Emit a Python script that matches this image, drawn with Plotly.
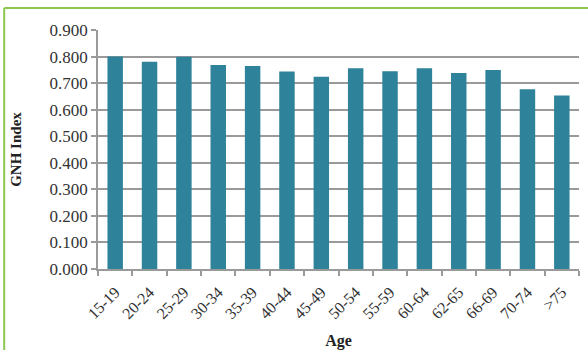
import plotly.graph_objects as go

ages = ["15-19", "20-24", "25-29", "30-34", "35-39", "40-44", "45-49",
        "50-54", "55-59", "60-64", "62-65", "66-69", "70-74", ">75"]
gnh_index = [0.800, 0.780, 0.799, 0.768, 0.764, 0.744, 0.724,
             0.756, 0.745, 0.756, 0.738, 0.749, 0.677, 0.653]
y_ticks = [0.0, 0.1, 0.2, 0.3, 0.4, 0.5, 0.6, 0.7, 0.8, 0.9]
y_tick_labels = [f"{v:.3f}" for v in y_ticks]

bar_color = "#2E8299"
grid_color = "#9A9A9A"
text_color = "#333333"
frame_color = "#8CC850"
font_family = "Liberation Serif, Times New Roman, serif"

fig = go.Figure(go.Bar(
    x=ages, y=gnh_index, marker=dict(color=bar_color, line=dict(width=0)),
))

fig.update_layout(
    width=588, height=350,
    margin=dict(l=98, r=9, t=30, b=81),
    paper_bgcolor="white", plot_bgcolor="white",
    bargap=0.55,
    showlegend=False,
    font=dict(family=font_family, color=text_color, size=15),
    xaxis=dict(
        type="category", tickson="boundaries", showgrid=False,
        automargin=False,
        ticks="outside", ticklen=5, tickcolor=grid_color, tickwidth=1.5,
        showline=True, linecolor=grid_color, linewidth=1.5,
        tickangle=-45, tickfont=dict(size=16, color=text_color),
        ticklabelstandoff=6,
        title=dict(text="<b>Age</b>", font=dict(size=16, color="#222222"), standoff=15),
    ),
    yaxis=dict(
        range=[0, 0.9], tickvals=y_ticks, ticktext=y_tick_labels,
        automargin=False,
        showgrid=True, gridcolor=grid_color, gridwidth=1.6,
        ticks="outside", ticklen=5, tickcolor=grid_color, tickwidth=1.5,
        showline=True, linecolor=grid_color, linewidth=1.5,
        zeroline=False,
        tickfont=dict(size=17, color=text_color),
        title=dict(text="<b>GNH Index</b>", font=dict(size=15, color="#222222"), standoff=24),
    ),
)

# green frame (top and left edges)
fig.add_shape(type="line", xref="paper", yref="paper",
              x0=-0.195, x1=1.03, y0=1.092, y1=1.092,
              line=dict(color=frame_color, width=2))
fig.add_shape(type="line", xref="paper", yref="paper",
              x0=-0.195, x1=-0.195, y0=1.092, y1=-0.35,
              line=dict(color=frame_color, width=2))

fig.write_html("out.html")
